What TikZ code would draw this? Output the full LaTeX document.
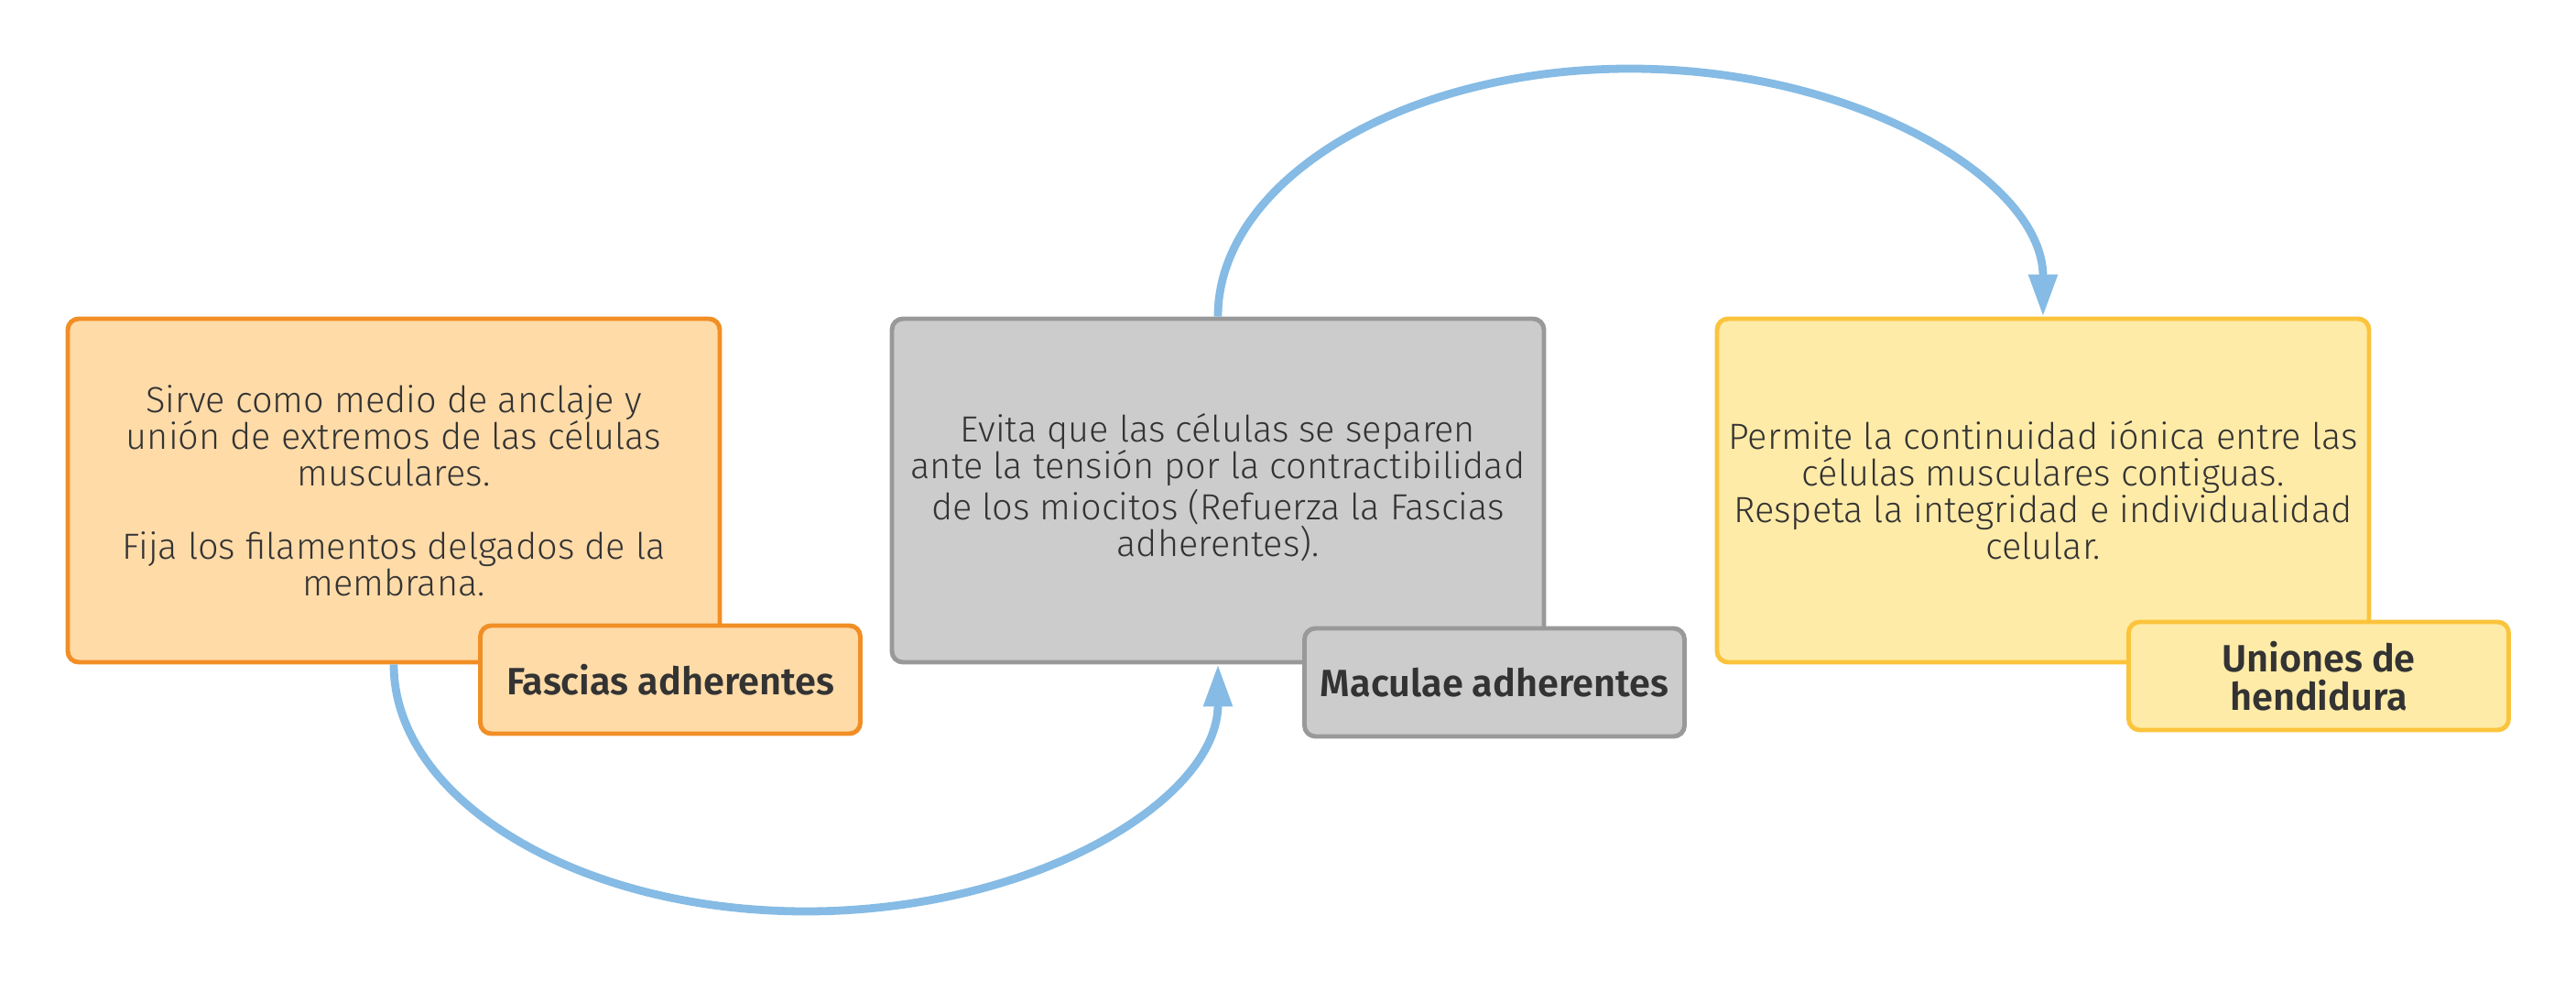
\documentclass[tikz,border=0pt]{standalone}
\usepackage{fontspec}
\setmainfont{Fira Sans}[UprightFont=* Light, BoldFont=* SemiBold]
\usetikzlibrary{arrows.meta}
\definecolor{txt}{HTML}{333333}
\definecolor{orfill}{HTML}{FFDBA8}
\definecolor{ordraw}{HTML}{F18E25}
\definecolor{grfill}{HTML}{CCCCCC}
\definecolor{grdraw}{HTML}{999999}
\definecolor{yefill}{HTML}{FFEBA8}
\definecolor{yedraw}{HTML}{FBC43C}
\definecolor{arr}{HTML}{85BBE4}
\tikzset{
  mainbox/.style={draw, line width=1.4pt, rounded corners=0.12cm, minimum width=7.12cm, minimum height=3.75cm, align=center, text=txt, font=\fontsize{11.3}{11.4}\selectfont, inner sep=0pt},
  labelbox/.style={draw, line width=1.4pt, rounded corners=0.12cm, minimum width=4.15cm, minimum height=1.18cm, align=center, text=txt, font=\bfseries\fontsize{11.8}{11.8}\selectfont, inner sep=0pt},
  conn/.style={draw=arr, line width=2.5pt, -{Triangle[length=0.46cm,width=0.3cm]}}
}
\begin{document}
\begin{tikzpicture}
\useasboundingbox (0,0) rectangle (28.13,-10.71);
\node[mainbox, fill=orfill, draw=ordraw] (b1) at (4.30,-5.355) {Sirve como medio de anclaje y\\unión de extremos de las células\\musculares.\\[11.4pt]Fija los filamentos delgados de la\\membrana.};
\node[mainbox, fill=grfill, draw=grdraw] (b2) at (13.30,-5.355) {Evita que las células se separen\\ante la tensión por la contractibilidad\\de los miocitos (Refuerza la Fascias\\adherentes).\\[-0.275cm]};
\node[mainbox, fill=yefill, draw=yedraw] (b3) at (22.31,-5.355) {Permite la continuidad iónica entre las\\células musculares contiguas.\\Respeta la integridad e individualidad\\celular.};
\node[labelbox, fill=orfill, draw=ordraw] (l1) at (7.32,-7.42) {Fascias adherentes};
\node[labelbox, fill=grfill, draw=grdraw] (l2) at (16.32,-7.45) {Maculae adherentes};
\node[labelbox, fill=yefill, draw=yedraw] (l3) at (25.32,-7.38) {Uniones de\\hendidura};
\draw[conn] (b1.south) .. controls (4.30,-8.73) and (6.31,-9.95) .. (8.80,-9.95) .. controls (11.29,-9.95) and (13.30,-8.73) .. (b2.south);
\draw[conn] (b2.north) .. controls (13.30,-1.98) and (15.31,-0.75) .. (17.80,-0.75) .. controls (20.29,-0.75) and (22.31,-1.98) .. (b3.north);
\end{tikzpicture}
\end{document}
